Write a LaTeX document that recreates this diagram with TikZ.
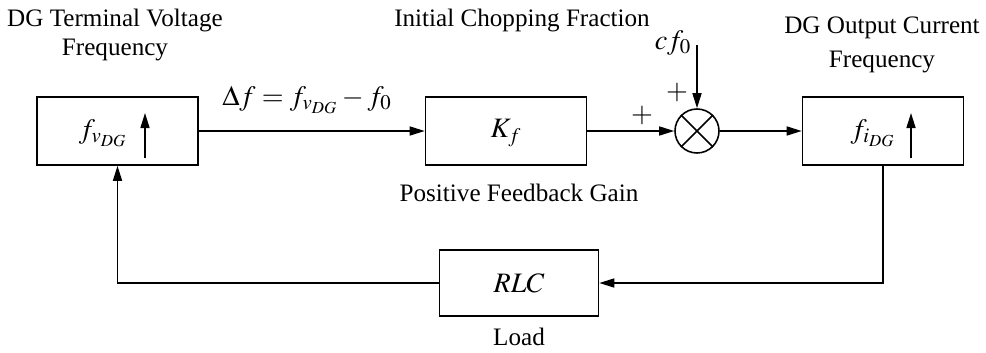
\documentclass[tikz,border=0pt]{standalone}
\usepackage{amsmath}
\usepackage{mathptmx}
\usepackage[no-math]{fontspec}
\setmainfont{Liberation Serif}
\usepackage{tikz}
\usetikzlibrary{positioning,arrows.meta,calc,shapes}
\tikzset{
  block/.style={rectangle,draw,line width=0.9pt,minimum width=3.22cm,minimum height=1.36cm,inner sep=0pt},
  sig/.style={line width=0.9pt,-{Triangle[length=3mm,width=1.8mm]}},
  wire/.style={line width=0.9pt},
  lbl/.style={font=\fontsize{14.3}{17}\selectfont,align=center,inner sep=0pt},
  mth/.style={font=\fontsize{16}{18}\selectfont,inner sep=0pt}
}
\begin{document}
\begin{tikzpicture}
			\useasboundingbox (0,0) rectangle (19.72,-7.04);
			\node [block, name = vdg] at (2.35,-2.62) {};
			\node [block, name = gain] at (10.12,-2.62) {};
			\node [block, name = idg] at (17.66,-2.62) {};
			\node [block, minimum width=3.18cm, minimum height=1.32cm, name = load] at (10.38,-5.66) {};
			\node [circle,draw,line width=0.9pt,minimum size=0.88cm,inner sep=0pt, name = sum] at (13.94,-2.62) {};
			\draw [wire] (sum.north west) -- (sum.south east);
			\draw [wire] (sum.north east) -- (sum.south west);
			\node [mth] (fv) at (2.06,-2.66) {$f_{v_{DG}}$};
			\node [mth] (kf) at (10.12,-2.66) {$K_f$};
			\node [mth] (fi) at (17.46,-2.66) {$f_{i_{DG}}$};
			\node [mth] (rlc) at (10.38,-5.66) {$RLC$};
			\coordinate (vlo) at (2.9,-3.16);
			\coordinate (vhi) at (2.9,-2.26);
			\coordinate (ilo) at (18.22,-3.16);
			\coordinate (ihi) at (18.22,-2.26);
			\draw [sig] (vlo) -- (vhi);
			\draw [sig] (ilo) -- (ihi);
			\node [lbl] (tvf) at (2.3,-0.7) {DG Terminal Voltage\\Frequency};
			\node [lbl] (icf) at (10.44,-0.4) {Initial Chopping Fraction};
			\node [lbl,font=\fontsize{14.3}{19}\selectfont] (ocf) at (17.64,-0.9) {DG Output Current\\Frequency};
			\node [lbl] (pfg) at (10.38,-3.86) {Positive Feedback Gain};
			\node [lbl] (ld) at (10.38,-6.74) {Load};
			\node [mth] (df) at (6.14,-2.0) {$\Delta f = f_{v_{DG}} - f_0$};
			\node [mth] (cf) at (13.46,-0.86) {$cf_0$};
			\node [mth] (p1) at (13.54,-1.84) {$+$};
			\node [mth] (p2) at (12.84,-2.3) {$+$};
			\coordinate (cin) at (13.94,-0.9);
			\draw [sig] (vdg) -- (gain);
			\draw [sig] (gain) -- (sum);
			\draw [sig] (cin) -- (sum);
			\draw [sig] (sum) -- (idg);
			\draw [sig] (idg.south) |- (load);
			\draw [sig] (load) -| (vdg.south);
		\end{tikzpicture}
\end{document}
